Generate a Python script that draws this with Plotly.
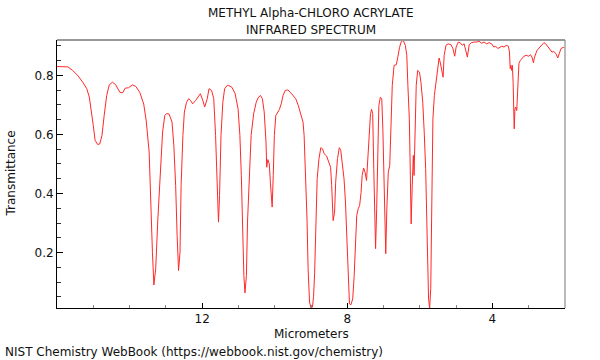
import plotly.graph_objects as go

# Wavelength (micrometers) and transmittance
wavelength_um = [
    16.0, 15.70, 15.57, 15.43, 15.29, 15.18, 15.11, 15.06, 15.00, 14.95, 14.88, 14.82, 14.76, 14.70,
    14.63, 14.56, 14.47, 14.38, 14.27, 14.19, 14.12, 14.03, 13.92, 13.83, 13.72, 13.61, 13.54, 13.46,
    13.42, 13.37, 13.33, 13.28, 13.22, 13.14, 13.09, 13.03, 12.98, 12.91, 12.83, 12.78, 12.73, 12.69,
    12.65, 12.61, 12.58, 12.53, 12.49, 12.43, 12.37, 12.32, 12.26, 12.18, 12.11, 12.05, 11.98, 11.93,
    11.86, 11.81, 11.74, 11.68, 11.63, 11.59, 11.55, 11.52, 11.48, 11.43, 11.38, 11.31, 11.27, 11.18,
    11.09, 11.01, 10.96, 10.92, 10.89, 10.85, 10.82, 10.78, 10.75, 10.70, 10.65, 10.58, 10.51, 10.45,
    10.39, 10.34, 10.29, 10.24, 10.22, 10.19, 10.15, 10.12, 10.07, 10.04, 10.01, 9.97, 9.91, 9.87,
    9.82, 9.77, 9.71, 9.64, 9.57, 9.50, 9.42, 9.35, 9.28, 9.22, 9.19, 9.15, 9.11, 9.08, 9.04, 9.00,
    8.96, 8.93, 8.90, 8.86, 8.83, 8.78, 8.73, 8.68, 8.64, 8.57, 8.52, 8.46, 8.43, 8.39, 8.35, 8.32,
    8.27, 8.22, 8.18, 8.13, 8.09, 8.05, 8.01, 7.98, 7.94, 7.90, 7.85, 7.81, 7.77, 7.74, 7.70, 7.66,
    7.62, 7.59, 7.55, 7.51, 7.47, 7.44, 7.40, 7.36, 7.33, 7.30, 7.27, 7.25, 7.22, 7.19, 7.16, 7.13,
    7.09, 7.05, 7.02, 6.98, 6.94, 6.91, 6.87, 6.83, 6.80, 6.76, 6.71, 6.65, 6.61, 6.56, 6.51, 6.46,
    6.40, 6.36, 6.33, 6.29, 6.27, 6.24, 6.21, 6.18, 6.16, 6.13, 6.10, 6.06, 6.01, 5.97, 5.92, 5.88,
    5.84, 5.81, 5.78, 5.76, 5.73, 5.70, 5.67, 5.64, 5.60, 5.55, 5.51, 5.47, 5.44, 5.40, 5.36, 5.33,
    5.28, 5.22, 5.14, 5.09, 5.04, 5.00, 4.94, 4.89, 4.83, 4.78, 4.73, 4.69, 4.64, 4.58, 4.50, 4.43,
    4.37, 4.30, 4.23, 4.16, 4.09, 4.02, 3.96, 3.91, 3.85, 3.80, 3.74, 3.68, 3.62, 3.56, 3.53, 3.51,
    3.49, 3.47, 3.45, 3.43, 3.41, 3.40, 3.38, 3.36, 3.33, 3.31, 3.27, 3.23, 3.18, 3.13, 3.07, 3.00,
    2.95, 2.91, 2.87, 2.84, 2.77, 2.72, 2.65, 2.58, 2.53, 2.48, 2.42, 2.36, 2.31, 2.25, 2.20, 2.15,
    2.11, 2.05, 2.02,
]
transmittance = [
    0.830, 0.829, 0.817, 0.800, 0.777, 0.755, 0.727, 0.687, 0.630, 0.580, 0.566, 0.568, 0.597, 0.664,
    0.732, 0.768, 0.777, 0.768, 0.743, 0.741, 0.757, 0.758, 0.768, 0.763, 0.743, 0.703, 0.645, 0.540,
    0.371, 0.201, 0.090, 0.145, 0.314, 0.506, 0.608, 0.664, 0.671, 0.669, 0.642, 0.563, 0.427, 0.258,
    0.139, 0.201, 0.427, 0.597, 0.676, 0.709, 0.721, 0.715, 0.704, 0.715, 0.726, 0.738, 0.715, 0.693,
    0.721, 0.755, 0.749, 0.721, 0.597, 0.427, 0.303, 0.393, 0.597, 0.709, 0.755, 0.766, 0.766, 0.760,
    0.738, 0.687, 0.597, 0.461, 0.280, 0.122, 0.063, 0.122, 0.303, 0.484, 0.597, 0.670, 0.709, 0.726,
    0.732, 0.721, 0.676, 0.574, 0.489, 0.515, 0.501, 0.438, 0.354, 0.461, 0.597, 0.664, 0.676, 0.685,
    0.704, 0.732, 0.749, 0.751, 0.743, 0.732, 0.721, 0.698, 0.664, 0.642, 0.597, 0.484, 0.314, 0.145,
    0.032, 0.012, 0.015, 0.050, 0.130, 0.314, 0.450, 0.518, 0.555, 0.551, 0.535, 0.527, 0.506, 0.489,
    0.427, 0.308, 0.337, 0.438, 0.518, 0.555, 0.546, 0.495, 0.450, 0.371, 0.235, 0.099, 0.026, 0.023,
    0.043, 0.122, 0.235, 0.325, 0.348, 0.359, 0.404, 0.461, 0.486, 0.472, 0.444, 0.506, 0.608, 0.670,
    0.685, 0.670, 0.484, 0.314, 0.213, 0.348, 0.574, 0.698, 0.726, 0.721, 0.619, 0.393, 0.196, 0.348,
    0.472, 0.495, 0.653, 0.766, 0.834, 0.836, 0.860, 0.895, 0.915, 0.919, 0.902, 0.868, 0.766, 0.653,
    0.518, 0.297, 0.427, 0.529, 0.461, 0.597, 0.766, 0.817, 0.811, 0.777, 0.709, 0.608, 0.484, 0.314,
    0.145, 0.043, 0.012, 0.077, 0.371, 0.653, 0.732, 0.789, 0.823, 0.859, 0.845, 0.811, 0.794, 0.868,
    0.902, 0.907, 0.904, 0.891, 0.865, 0.896, 0.913, 0.911, 0.902, 0.907, 0.885, 0.862, 0.904, 0.911,
    0.913, 0.913, 0.916, 0.909, 0.913, 0.907, 0.911, 0.907, 0.896, 0.899, 0.891, 0.896, 0.899, 0.896,
    0.902, 0.899, 0.879, 0.823, 0.834, 0.817, 0.834, 0.777, 0.687, 0.619, 0.687, 0.693, 0.681, 0.755,
    0.840, 0.851, 0.857, 0.865, 0.868, 0.865, 0.870, 0.862, 0.843, 0.862, 0.885, 0.891, 0.902, 0.911,
    0.907, 0.899, 0.888, 0.879, 0.881, 0.874, 0.859, 0.877, 0.891, 0.895, 0.894,
]
x_tick_vals = [12, 8, 4]
x_tick_text = ["12", "8", "4"]
y_tick_vals = [0.2, 0.4, 0.6, 0.8]
y_tick_text = ["0.2", "0.4", "0.6", "0.8"]

FONT = "DejaVu Sans"
TXT = "#111"

fig = go.Figure()
fig.add_trace(go.Scatter(
    x=wavelength_um, y=transmittance, mode="lines",
    line=dict(color="rgb(255,40,40)", width=1),
    showlegend=False, hoverinfo="skip",
))

fig.update_layout(
    width=600, height=360,
    margin=dict(l=57, r=35, t=40, b=52),
    paper_bgcolor="white", plot_bgcolor="white",
    font=dict(family=FONT, size=12, color=TXT),
    xaxis=dict(
        range=[16, 2], autorange=False,
        tickmode="array", tickvals=x_tick_vals, ticktext=x_tick_text,
        ticks="inside", ticklen=5, tickcolor="black", tickwidth=1,
        showline=True, linecolor="black", linewidth=1,
        showgrid=False, zeroline=False,
        ticklabelstandoff=0,
        minor=dict(tickmode="linear", tick0=0, dtick=1, ticks="inside",
                   ticklen=3, tickcolor="#888", showgrid=False),
    ),
    yaxis=dict(
        range=[0.012, 0.92], autorange=False,
        tickmode="array", tickvals=y_tick_vals, ticktext=y_tick_text,
        ticks="inside", ticklen=6, tickcolor="black", tickwidth=1,
        showline=True, linecolor="black", linewidth=1,
        showgrid=False, zeroline=False,
        ticklabelstandoff=0,
        minor=dict(tickmode="linear", tick0=0, dtick=0.05, ticks="inside",
                   ticklen=4, tickcolor="#333", showgrid=False),
    ),
    shapes=[
        dict(type="line", xref="paper", yref="paper", x0=0, x1=1, y0=1, y1=1,
             line=dict(color="#999", width=2)),
        dict(type="line", xref="paper", yref="paper", x0=1, x1=1, y0=0, y1=1,
             line=dict(color="#777", width=1)),
    ],
    annotations=[
        dict(text="METHYL Alpha-CHLORO ACRYLATE", xref="paper", yref="paper",
             x=0.5, y=1.1007, xanchor="center", yanchor="middle", showarrow=False,
             font=dict(family=FONT, size=12, color=TXT)),
        dict(text="INFRARED SPECTRUM", xref="paper", yref="paper",
             x=0.5, y=1.0373, xanchor="center", yanchor="middle", showarrow=False,
             font=dict(family=FONT, size=12, color=TXT)),
        dict(text="Micrometers", xref="paper", yref="paper", x=0.5, y=-0.096,
             xanchor="center", yanchor="middle", showarrow=False,
             font=dict(family=FONT, size=12, color=TXT)),
        dict(text="Transmittance", xref="paper", yref="paper", x=-0.0915, y=0.5,
             xanchor="center", yanchor="middle", textangle=-90, showarrow=False,
             font=dict(family=FONT, size=12, color=TXT)),
        dict(text="NIST Chemistry WebBook (https://webbook.nist.gov/chemistry)",
             xref="paper", yref="paper", x=-0.106, y=-0.164,
             xanchor="left", yanchor="middle", showarrow=False,
             font=dict(family=FONT, size=12, color=TXT)),
    ],
)

fig.write_html(
    "out.html",
    config={"displayModeBar": False, "staticPlot": True},
    post_script="document.body.style.margin='0';document.body.style.overflow='hidden';",
)
